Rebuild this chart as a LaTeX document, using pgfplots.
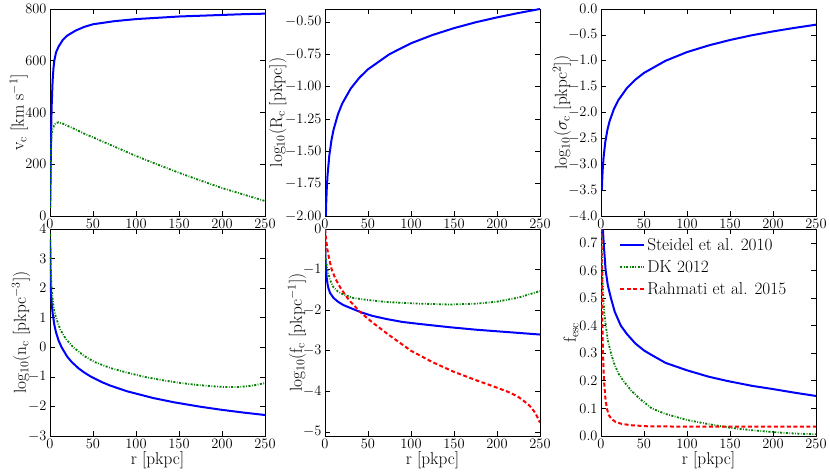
\documentclass[border=0pt]{standalone}
\usepackage{pgfplots}
\pgfplotsset{compat=1.18}
\definecolor{mblue}{rgb}{0,0,1}
\definecolor{mgreen}{rgb}{0,0.5,0}
\definecolor{mred}{rgb}{1,0,0}
\pgfplotsset{
 panel/.style={scale only axis, width=215pt, height=207pt, xmin=0, xmax=250,
   xtick={0,50,100,150,200,250}, tick align=inside, major tick length=5pt,
   tick style={black, line width=0.6pt}, axis line style={line width=0.8pt},
   tick label style={font=\fontsize{14.4}{16}\selectfont},
   label style={font=\fontsize{17.28}{20}\selectfont},
   xlabel style={at={(axis description cs:0.5,-0.118)}, anchor=center},
   minor tick num=0, anchor=south west, scaled ticks=false},
 ylab/.style={ylabel style={at={(axis description cs:#1,0.5)}, anchor=center}},
 sblue/.style={mblue, line width=2pt},
 sgreen/.style={mgreen, line width=1.8pt, dash pattern=on 2pt off 1.5pt on 0.8pt off 1.5pt},
 sred/.style={mred, line width=2pt, dash pattern=on 4pt off 2.5pt},
}
\begin{document}
\begin{tikzpicture}
\path[use as bounding box] (0,0) rectangle (830pt,473pt);
% Panel 1
\begin{axis}[panel, at={(50pt,257pt)}, ymin=0, ymax=800, ytick={0,200,400,600,800},
  ylab=-0.145, ylabel={v$_{\mathrm{c}}$ [km s$^{-1}$]}]
\addplot[sblue] coordinates {(0.1,30) (0.3,60) (0.6,130) (1,250) (1.5,360) (2,430) (3,520) (4,570) (5,600) (7,632) (10,655) (15,681) (20,697) (30,717) (40,731) (50,741) (75,753) (100,761) (125,766) (150,771) (175,774) (200,777) (225,780) (250,782)};
\addplot[sgreen] coordinates {(0.1,30) (0.3,60) (0.6,130) (1,230) (1.5,290) (2,315) (3,335) (5,352) (7,359) (10,362) (15,357) (20,349) (30,334) (40,318) (50,304) (75,268) (100,232) (125,199) (150,167) (175,137) (200,108) (225,83) (250,58)};
\end{axis}
% Panel 2
\begin{axis}[panel, at={(325pt,257pt)}, ymin=-2, ymax=-0.4, ytick={-2,-1.75,-1.5,-1.25,-1,-0.75,-0.5},
  yticklabel style={/pgf/number format/.cd, fixed, fixed zerofill, precision=2},
  ylab=-0.22, ylabel={log$_{10}$(R$_{\mathrm{c}}$ [pkpc])}]
\addplot[sblue] coordinates {(0.95,-2.015) (1,-2.0) (1.5,-1.882) (2,-1.798) (3,-1.681) (5,-1.533) (7.5,-1.415) (10,-1.332) (15,-1.215) (20,-1.131) (30,-1.014) (40,-0.931) (50,-0.866) (75,-0.749) (100,-0.665) (125,-0.601) (150,-0.548) (175,-0.503) (200,-0.465) (225,-0.431) (250,-0.400)};
\end{axis}
% Panel 3
\begin{axis}[panel, at={(601pt,257pt)}, ymin=-4, ymax=0, ytick={-4,-3.5,...,0},
  yticklabel style={/pgf/number format/.cd, fixed, fixed zerofill, precision=1},
  ylab=-0.181, ylabel={log$_{10}$($\sigma_{\mathrm{c}}$ [pkpc$^{2}$])}]
\addplot[sblue] coordinates {(1,-3.503) (1.5,-3.267) (2,-3.099) (3,-2.865) (5,-2.569) (7.5,-2.333) (10,-2.167) (15,-1.933) (20,-1.765) (30,-1.531) (40,-1.365) (50,-1.235) (75,-1.001) (100,-0.833) (125,-0.705) (150,-0.599) (175,-0.509) (200,-0.433) (225,-0.365) (250,-0.303)};
\end{axis}
% Panel 4
\begin{axis}[panel, at={(50pt,37pt)}, ymin=-3, ymax=4, ytick={-3,-2,...,4},
  ylab=-0.135, ylabel={log$_{10}$(n$_{\mathrm{c}}$ [pkpc$^{-3}$])}, xlabel={r [pkpc]}]
\addplot[sblue] coordinates {(0.2,3.66) (0.4,3.0) (0.8,2.1) (1.3,1.75) (2,1.485) (3,1.167) (5,0.768) (7,0.505) (10,0.226) (13.5,0.0) (20,-0.316) (25,-0.49) (33,-0.707) (40,-0.857) (48,-1.0) (60,-1.174) (70,-1.295) (90,-1.491) (120,-1.716) (144,-1.859) (175,-2.011) (200,-2.116) (225,-2.208) (250,-2.29)};
\addplot[sgreen] coordinates {(0.2,3.83) (0.5,3.2) (1,2.6) (1.9,2.0) (3.5,1.5) (5,1.23) (7,1.0) (12,0.6) (18,0.3) (27,0.0) (40,-0.3) (52,-0.5) (70,-0.7) (90,-0.86) (110,-1.0) (130,-1.11) (150,-1.2) (170,-1.27) (190,-1.32) (205,-1.345) (220,-1.34) (232,-1.31) (242,-1.26) (250,-1.21)};
\end{axis}
% Panel 5
\begin{axis}[panel, at={(325pt,37pt)}, ymin=-5.1, ymax=0, ytick={-5,-4,...,0},
  ylab=-0.13, ylabel={log$_{10}$(f$_{\mathrm{c}}$ [pkpc$^{-1}$])}, xlabel={r [pkpc]}]
\addplot[sblue] coordinates {(0.1,0) (0.3,-0.5) (0.6,-0.75) (1.2,-1.0) (2,-1.2) (3,-1.36) (4,-1.46) (6,-1.58) (10,-1.70) (15,-1.79) (21,-1.87) (30,-1.95) (37,-2.01) (43,-2.06) (55,-2.14) (72,-2.22) (90,-2.29) (110,-2.34) (145,-2.42) (175,-2.48) (200,-2.52) (225,-2.56) (250,-2.60)};
\addplot[sgreen] coordinates {(0.1,0) (0.2,-0.3) (0.5,-0.55) (1,-0.75) (2.7,-1.0) (5.8,-1.25) (9.7,-1.43) (15,-1.54) (21,-1.61) (33,-1.70) (50,-1.75) (72,-1.80) (110,-1.84) (145,-1.86) (175,-1.84) (200,-1.79) (225,-1.69) (250,-1.53)};
\addplot[sred] coordinates {(0.1,0) (0.5,-0.1) (1,-0.2) (2.7,-0.5) (5,-0.75) (7.8,-1.0) (12,-1.22) (18,-1.45) (24,-1.64) (30,-1.8) (42.6,-2.08) (55,-2.3) (73.6,-2.6) (100,-3.0) (125,-3.28) (150,-3.52) (175,-3.72) (200,-3.91) (215,-4.03) (225,-4.14) (235,-4.3) (240,-4.4) (245,-4.55) (250,-4.77)};
\end{axis}
% Panel 6
\begin{axis}[panel, at={(601pt,37pt)}, ymin=0, ymax=0.75, ytick={0,0.1,...,0.7},
  yticklabel style={/pgf/number format/.cd, fixed, fixed zerofill, precision=1},
  ylab=-0.14, ylabel={f$_{\mathrm{esc}}$}, xlabel={r [pkpc]},
  legend style={draw=none, fill=none, at={(0.07,0.975)}, anchor=north west,
    font=\fontsize{17.28}{20}\selectfont, row sep=4.5pt},
  legend cell align=left,
  legend image code/.code={\draw[#1] (0pt,0pt) -- (24pt,0pt);}]
\addplot[sblue] coordinates {(1,0.86) (1.5,0.8) (2,0.76) (3.1,0.7) (5.4,0.6) (8,0.545) (11.5,0.5) (16,0.45) (23,0.4) (30,0.37) (40,0.335) (50,0.31) (58,0.295) (75,0.265) (100,0.238) (125,0.215) (146,0.2) (175,0.182) (200,0.17) (225,0.157) (250,0.145)};
\addlegendentry{Steidel et al. 2010}
\addplot[sgreen] coordinates {(0.1,0.85) (0.3,0.8) (0.8,0.7) (1.5,0.6) (2.7,0.5) (4,0.44) (5.6,0.4) (8,0.345) (11.6,0.3) (15,0.265) (20,0.228) (26,0.2) (35,0.165) (45,0.135) (59,0.1) (75,0.08) (100,0.058) (125,0.043) (150,0.03) (175,0.021) (200,0.014) (225,0.009) (250,0.006)};
\addlegendentry{DK 2012}
\addplot[sred] coordinates {(0.1,0.9) (0.3,0.85) (0.6,0.7) (1.2,0.5) (1.7,0.4) (2.3,0.3) (3.5,0.2) (5,0.14) (6.8,0.1) (9,0.076) (12.4,0.061) (17,0.051) (24,0.044) (35,0.039) (55,0.035) (100,0.034) (250,0.034)};
\addlegendentry{Rahmati et al. 2015}
\end{axis}
\end{tikzpicture}
\end{document}
